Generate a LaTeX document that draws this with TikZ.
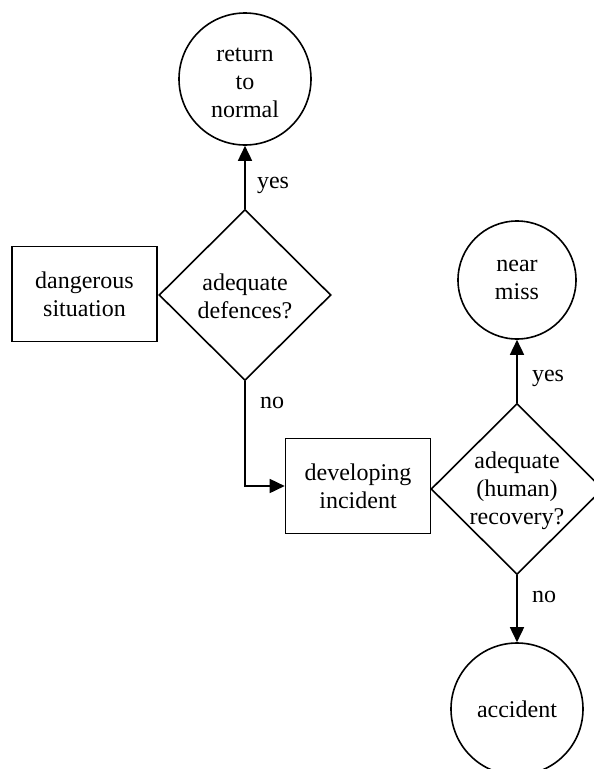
\documentclass[tikz,border=0pt]{standalone}
\usepackage{fontspec}
\setmainfont{Liberation Serif}
\usetikzlibrary{shapes.geometric,arrows.meta}
\begin{document}
\begin{tikzpicture}[x=1pt,y=-1pt,
  every node/.style={font=\fontsize{24}{28}\selectfont, align=center},
  base/.style={draw, line width=1.6pt},
  endstate/.style={base, circle, minimum size=#1, inner sep=0pt},
  stepbox/.style={base, rectangle, minimum width=145pt, minimum height=95pt, inner sep=0pt},
  decision/.style={base, diamond, minimum width=172pt, minimum height=171pt, inner sep=0pt},
  flow/.style={line width=1.6pt, -{Triangle[length=15pt,width=14pt]}},
  tag/.style={inner sep=0pt}
]
\useasboundingbox (0,0) rectangle (594,769);
\clip (0,0) rectangle (594,769);

% start state and first decision
\node[stepbox] (danger) at (84.5,294) {dangerous\\situation};
\node[decision] (defences) at (245,295) {};
\node[tag] (defencesText) at (245,296) {adequate\\defences?};
\node[endstate=132pt] (normal) at (245,79) {};
\node[tag] (normalText) at (245,83) {return\\to\\normal};

% developing incident and recovery decision
\node[stepbox] (incident) at (358,486) {developing\\incident};
\node[decision] (recovery) at (517,489) {};
\node[tag] (recoveryText) at (517,491) {adequate\\(human)\\recovery?};
\node[endstate=118pt] (nearmiss) at (517,280) {near\\miss};
\node[endstate=132pt] (accident) at (517,709) {accident};

% connectors
\draw[flow] (defences.north) -- (normal.south);
\draw[flow] (defences.south) |- (incident.west);
\draw[flow] (recovery.north) -- (nearmiss.south);
\draw[flow] (recovery.south) -- (accident.north);

% branch labels
\node[tag] (yesA) at (273,185) {yes};
\node[tag] (noA) at (272,403) {no};
\node[tag] (yesB) at (548,378) {yes};
\node[tag] (noB) at (544,597) {no};
\end{tikzpicture}
\end{document}
